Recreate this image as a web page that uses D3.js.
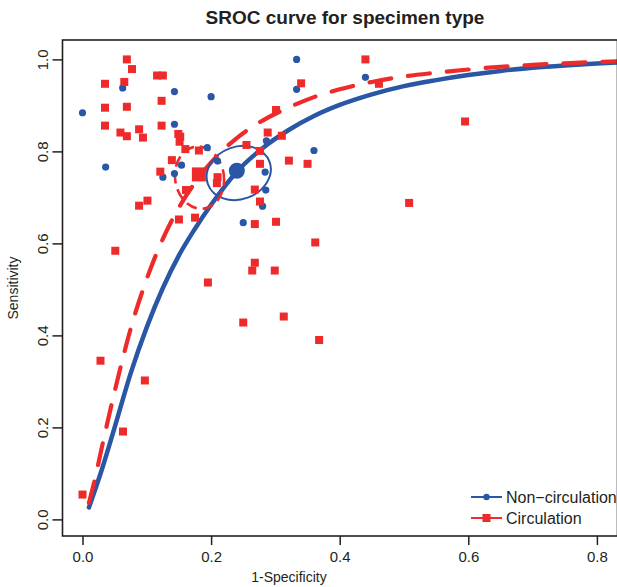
<!DOCTYPE html>
<html>
<head>
<meta charset="utf-8">
<script src="https://cdn.jsdelivr.net/npm/d3@7"></script>
<style>
  body { margin: 0; background: #fff; }
  text { font-family: "Liberation Sans", Arial, Helvetica, sans-serif; fill: #231f20; }
</style>
</head>
<body>
<div id="chart"></div>
<script>
// ticks
const xTicks = [0, 0.2, 0.4, 0.6, 0.8];
const yTicks = [0, 0.2, 0.4, 0.6, 0.8, 1.0];
const seriesNames = ["Non\u2212circulation", "Circulation"];

// individual studies [1-specificity, sensitivity]
const nonCircStudies = [
  [0.000, 0.884], [0.0625, 0.938], [0.143, 0.930], [0.200, 0.919], [0.143, 0.859],
  [0.194, 0.808], [0.210, 0.779], [0.154, 0.770], [0.143, 0.752], [0.125, 0.744],
  [0.036, 0.766], [0.286, 0.823], [0.284, 0.755], [0.285, 0.716], [0.280, 0.681],
  [0.250, 0.645], [0.360, 0.802], [0.333, 1.000], [0.333, 0.935], [0.440, 0.961]
];
const circStudies = [
  [0.069, 1.000], [0.077, 0.979], [0.116, 0.965], [0.125, 0.965], [0.035, 0.947],
  [0.065, 0.951], [0.123, 0.910], [0.035, 0.895], [0.069, 0.897], [0.035, 0.856],
  [0.123, 0.856], [0.059, 0.841], [0.069, 0.833], [0.088, 0.848], [0.094, 0.830],
  [0.149, 0.838], [0.152, 0.832], [0.151, 0.821], [0.160, 0.805], [0.181, 0.802],
  [0.139, 0.781], [0.121, 0.756], [0.210, 0.744], [0.209, 0.731], [0.161, 0.716],
  [0.101, 0.693], [0.088, 0.682], [0.150, 0.652], [0.175, 0.656], [0.195, 0.515],
  [0.051, 0.584], [0.028, 0.345], [0.097, 0.302], [0.063, 0.191], [0.000, 0.054],
  [0.255, 0.814], [0.276, 0.801], [0.288, 0.841], [0.310, 0.834], [0.276, 0.773],
  [0.321, 0.780], [0.350, 0.773], [0.268, 0.717], [0.276, 0.691], [0.268, 0.642],
  [0.301, 0.647], [0.362, 0.602], [0.268, 0.558], [0.264, 0.541], [0.299, 0.541],
  [0.313, 0.441], [0.250, 0.428], [0.368, 0.390], [0.440, 1.000], [0.340, 0.948],
  [0.461, 0.947], [0.301, 0.890], [0.595, 0.865], [0.508, 0.688]
];

// SROC curves
const nonCircCurve = [
  [0.01, 0.026], [0.03, 0.108], [0.05, 0.200], [0.075, 0.318], [0.10, 0.418],
  [0.125, 0.503], [0.15, 0.574], [0.175, 0.632], [0.20, 0.684], [0.24, 0.756],
  [0.28, 0.807], [0.32, 0.846], [0.36, 0.877], [0.40, 0.901], [0.45, 0.924],
  [0.50, 0.942], [0.55, 0.955], [0.60, 0.966], [0.65, 0.975], [0.70, 0.982],
  [0.75, 0.987], [0.80, 0.991], [0.84, 0.994]
];
const circCurve = [
  [0.01, 0.036], [0.02, 0.092], [0.03, 0.156], [0.05, 0.278], [0.075, 0.415],
  [0.10, 0.523], [0.125, 0.610], [0.15, 0.678], [0.175, 0.732], [0.20, 0.776],
  [0.24, 0.829], [0.28, 0.867], [0.32, 0.895], [0.36, 0.918], [0.40, 0.935],
  [0.45, 0.951], [0.50, 0.963], [0.55, 0.971], [0.60, 0.978], [0.65, 0.984],
  [0.70, 0.988], [0.75, 0.9915], [0.80, 0.9943], [0.84, 0.996]
];

// summary points and confidence regions
const nonCircSummary = [0.240, 0.758];
const circSummary = [0.181, 0.750];
const nonCircRegion = { cx: 0.243, cy: 0.753, ax: 0.051, ay: 0.057, angle: -20 };
const circRegion = { cx: 0.182, cy: 0.743, ax: 0.038, ay: 0.068, angle: -8 };

const blue = "#2a57a5";
const red = "#ee2a2a";
const W = 617, H = 587;
const frame = { left: 62.5, top: 40, right: 617.5, bottom: 536 };

const x = d3.scaleLinear().domain([0, 0.8]).range([82.5, 596.9]);
const y = d3.scaleLinear().domain([0, 1]).range([519.4, 59.4]);

const svg = d3.select("#chart").append("svg")
  .attr("width", W).attr("height", H);

svg.append("defs").append("clipPath").attr("id", "plotclip")
  .append("rect")
  .attr("x", frame.left).attr("y", frame.top)
  .attr("width", frame.right - frame.left).attr("height", frame.bottom - frame.top);

// title
svg.append("text")
  .attr("x", 345).attr("y", 24)
  .attr("text-anchor", "middle")
  .style("font-size", "19px").style("font-weight", "bold")
  .text("SROC curve for specimen type");

// axes
const xAxis = d3.axisBottom(x).tickValues(xTicks).tickSize(9).tickPadding(6)
  .tickFormat(d3.format(".1f"));
const gx = svg.append("g").attr("transform", `translate(0,${frame.bottom})`).call(xAxis);
gx.select(".domain").remove();
gx.selectAll("line").attr("stroke", "#231f20").attr("stroke-width", 1.5);
gx.selectAll("text").style("font-size", "15px").attr("fill", "#231f20");

const yAxis = d3.axisLeft(y).tickValues(yTicks).tickSize(10)
  .tickFormat(d3.format(".1f"));
const gy = svg.append("g").attr("transform", `translate(${frame.left},0)`).call(yAxis);
gy.select(".domain").remove();
gy.selectAll("line").attr("stroke", "#231f20").attr("stroke-width", 1.5);
gy.selectAll("text")
  .attr("x", 0).attr("dy", 0)
  .attr("transform", "translate(-14.5,0) rotate(-90)")
  .attr("text-anchor", "middle")
  .attr("fill", "#231f20")
  .style("font-size", "15px");

svg.append("text")
  .attr("x", 289).attr("y", 582)
  .attr("text-anchor", "middle")
  .style("font-size", "14px")
  .text("1-Specificity");

svg.append("text")
  .attr("transform", `translate(18,${(frame.top + frame.bottom) / 2}) rotate(-90)`)
  .attr("text-anchor", "middle")
  .style("font-size", "14px")
  .text("Sensitivity");

const plot = svg.append("g").attr("clip-path", "url(#plotclip)");

// curves
const line = d3.line().x(d => x(d[0])).y(d => y(d[1])).curve(d3.curveMonotoneX);

plot.append("path")
  .attr("d", line(nonCircCurve))
  .attr("fill", "none").attr("stroke", blue)
  .attr("stroke-width", 4.5).attr("stroke-linecap", "round");

plot.append("path")
  .attr("d", line(circCurve))
  .attr("fill", "none").attr("stroke", red)
  .attr("stroke-width", 4.2).attr("stroke-linecap", "round")
  .attr("stroke-dasharray", "22,17");

// confidence regions
function drawRegion(r, color, dash, width) {
  const px = x(r.cx), py = y(r.cy);
  plot.append("ellipse")
    .attr("cx", 0).attr("cy", 0)
    .attr("rx", x(r.cx + r.ax) - px)
    .attr("ry", py - y(r.cy + r.ay))
    .attr("transform", `translate(${px},${py}) rotate(${r.angle})`)
    .attr("fill", "none").attr("stroke", color)
    .attr("stroke-width", width)
    .attr("stroke-dasharray", dash);
}
drawRegion(nonCircRegion, blue, null, 2);
drawRegion(circRegion, red, "11,6", 2.6);

// study points
plot.selectAll("circle.nc").data(nonCircStudies).join("circle")
  .attr("class", "nc")
  .attr("cx", d => x(d[0])).attr("cy", d => y(d[1]))
  .attr("r", 3.6).attr("fill", blue);

plot.selectAll("rect.c").data(circStudies).join("rect")
  .attr("class", "c")
  .attr("x", d => x(d[0]) - 4).attr("y", d => y(d[1]) - 4)
  .attr("width", 8).attr("height", 8).attr("fill", red);

// summary points
plot.append("circle")
  .attr("cx", x(nonCircSummary[0])).attr("cy", y(nonCircSummary[1]))
  .attr("r", 8).attr("fill", blue);
plot.append("rect")
  .attr("x", x(circSummary[0]) - 7).attr("y", y(circSummary[1]) - 7)
  .attr("width", 14).attr("height", 14).attr("fill", red);

// frame
svg.append("rect")
  .attr("x", frame.left).attr("y", frame.top)
  .attr("width", frame.right - frame.left).attr("height", frame.bottom - frame.top)
  .attr("fill", "none").attr("stroke", "#231f20").attr("stroke-width", 1.6);

// legend
const legend = svg.append("g").attr("transform", "translate(471,497)");
seriesNames.forEach((name, i) => {
  const g = legend.append("g").attr("transform", `translate(0,${i * 21})`);
  const color = i === 0 ? blue : red;
  g.append("line").attr("x1", 0).attr("x2", 31).attr("y1", 0).attr("y2", 0)
    .attr("stroke", color).attr("stroke-width", 2);
  if (i === 0) {
    g.append("circle").attr("cx", 15.5).attr("cy", 0).attr("r", 3.2).attr("fill", color);
  } else {
    g.append("rect").attr("x", 11.5).attr("y", -4).attr("width", 8).attr("height", 8).attr("fill", color);
  }
  g.append("text").attr("x", 35).attr("y", 6)
    .style("font-size", "16px").text(name);
});
</script>
</body>
</html>
